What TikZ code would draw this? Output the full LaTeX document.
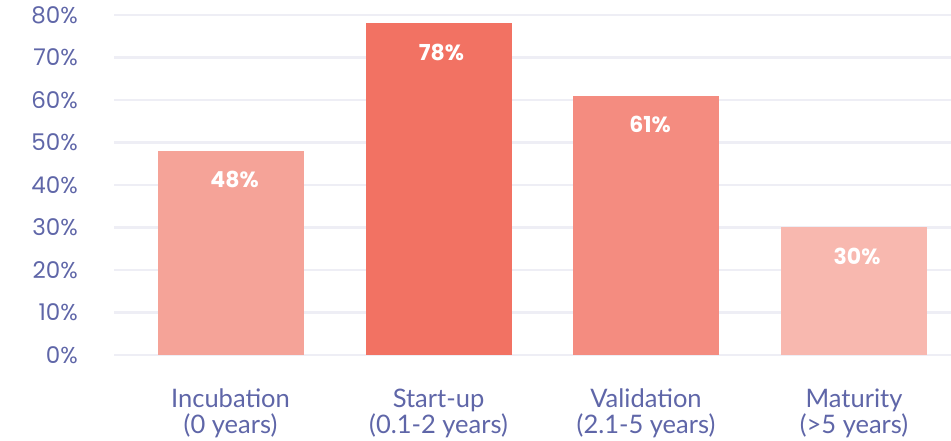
\documentclass[tikz,border=0pt]{standalone}
\usepackage{fontspec}
\setmainfont{Poppins}
\newfontfamily\catfont{Lato}
\usetikzlibrary{positioning}
\definecolor{axisblue}{HTML}{5F66A8}
\definecolor{gridgray}{HTML}{EEEEF5}
\definecolor{incubationred}{HTML}{F5A398}
\definecolor{startupred}{HTML}{F27263}
\definecolor{validationred}{HTML}{F48C80}
\definecolor{maturityred}{HTML}{F8B8AF}
\tikzset{
  gridline/.style={draw=gridgray, line width=2.2pt},
  ticklabel/.style={anchor=east, inner sep=0pt, text=axisblue, font=\fontsize{23}{26}\selectfont},
  bar/.style={rectangle, anchor=south, minimum width=146pt, inner sep=0pt, outer sep=0pt},
  value/.style={inner sep=0pt, text=white, font=\bfseries\fontsize{22}{26}\selectfont},
  category/.style={align=center, inner sep=0pt, text=axisblue, font=\catfont\fontsize{25.5}{26}\selectfont}
  }

\begin{document}
\begin{tikzpicture}[x=1pt, y=1pt, node distance=20pt]
	\useasboundingbox (0,0) rectangle (951,441);

	% Grid and axis
	\foreach \p/\t in {0/0, 1/10, 2/20, 3/30, 4/40, 5/50, 6/60, 7/70, 8/80} {
		\draw [gridline] (114, 86+\p*42.5) -- (951, 86+\p*42.5);
		\node[ticklabel] (tick\p) at (78, 86+\p*42.5) {\t\%};
	}

	% Bars
	\node[bar, fill=incubationred, minimum height=204pt] (incubation) at (230.5, 86) {};
	\node[bar, fill=startupred, minimum height=331.5pt] (startup) at (438.5, 86) {};
	\node[bar, fill=validationred, minimum height=259.25pt] (validation) at (646, 86) {};
	\node[bar, fill=maturityred, minimum height=127.5pt] (maturity) at (854, 86) {};

	% Values
	\node[value, below=of incubation.north, xshift=4pt] (v-incubation) {48\%};
	\node[value, below=of startup.north, xshift=3pt] (v-startup) {78\%};
	\node[value, below=of validation.north, xshift=4pt] (v-validation) {61\%};
	\node[value, below=of maturity.north, xshift=3pt] (v-maturity) {30\%};

	% Categories
	\node[category, below=34pt of incubation.south] (c-incubation) {Incubation\\(0 years)};
	\node[category, below=34pt of startup.south] (c-startup) {Start-up\\(0.1-2 years)};
	\node[category, below=34pt of validation.south] (c-validation) {Validation\\(2.1-5 years)};
	\node[category, below=34pt of maturity.south] (c-maturity) {Maturity\\(>5 years)};
\end{tikzpicture}
\end{document}
